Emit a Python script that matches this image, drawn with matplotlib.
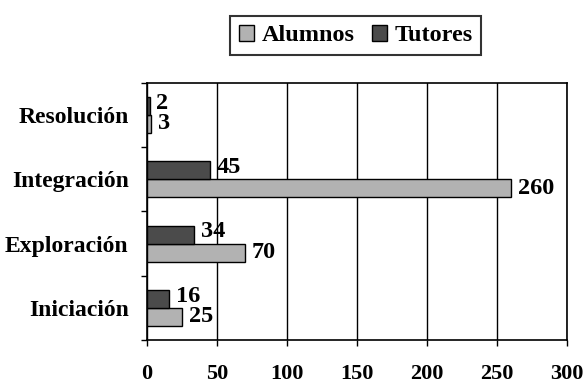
import matplotlib.pyplot as plt
import matplotlib.patches as mpatches
import numpy as np

categories = ["Iniciación", "Exploración", "Integración", "Resolución"]
alumnos = [25, 70, 260, 3]
tutores = [16, 34, 45, 2]
xticks = [0, 50, 100, 150, 200, 250, 300]

LIGHT = "#b2b2b2"
DARK = "#4b4b4b"

plt.rcParams["font.family"] = ["Liberation Serif", "DejaVu Serif"]
plt.rcParams["font.weight"] = "bold"

fig = plt.figure(figsize=(5.88, 3.84), dpi=100)
ax = fig.add_axes([0.2495, 0.1146, 0.9638 - 0.2495, 0.7846 - 0.1146])

y = np.arange(len(categories))
h = 0.28
ax.barh(y - h / 2, alumnos, height=h, color=LIGHT, edgecolor="black", linewidth=1, zorder=3)
ax.barh(y + h / 2, tutores, height=h, color=DARK, edgecolor="black", linewidth=1, zorder=3)

# value labels just right of each bar end
for yi, v in zip(y, alumnos):
    ax.annotate(str(v), (v, yi - h / 2), xytext=(5, 0), textcoords="offset points",
                ha="left", va="center", fontsize=17.5, fontweight="bold")
for yi, v in zip(y, tutores):
    ax.annotate(str(v), (v, yi + h / 2), xytext=(5, 2), textcoords="offset points",
                ha="left", va="center", fontsize=17.5, fontweight="bold")

ax.set_xlim(0, 300)
ax.set_ylim(-0.5, len(categories) - 0.5)
ax.set_xticks(xticks)
ax.set_xticklabels([str(t) for t in xticks], fontsize=16, fontweight="bold")
ax.tick_params(axis="x", length=4.5, width=1, pad=13, direction="out")

ax.set_yticks(y)
ax.set_yticklabels(categories, fontsize=17, fontweight="bold")
ax.set_yticks(np.arange(-0.5, len(categories)), minor=True)
ax.tick_params(axis="y", which="major", length=0, pad=13)
ax.tick_params(axis="y", which="minor", length=4, width=1, direction="out")

ax.grid(axis="x", color="black", linewidth=1, zorder=0)
for s in ax.spines.values():
    s.set_color("black")
    s.set_linewidth(1.2)

handles = [mpatches.Patch(facecolor=LIGHT, edgecolor="black", label="Alumnos"),
           mpatches.Patch(facecolor=DARK, edgecolor="black", label="Tutores")]
leg = fig.legend(handles=handles, loc="center", bbox_to_anchor=(0.605, 0.9076), ncol=2,
                 fancybox=False, frameon=True, edgecolor="black", prop={"size": 17.5, "weight": "bold"},
                 handlelength=0.65, handleheight=0.65, handletextpad=0.3, columnspacing=0.7,
                 borderpad=0.35)
leg.get_frame().set_linewidth(1.5)

fig.savefig("out.png", dpi=100, facecolor="white")
